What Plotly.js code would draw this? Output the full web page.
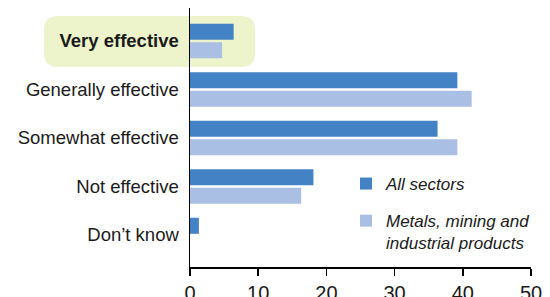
<!DOCTYPE html>
<html>
<head>
<meta charset="utf-8">
<script src="https://cdn.plot.ly/plotly-3.0.1.min.js"></script>
<style>html,body{margin:0;padding:0;background:#fff;}#chart{width:550px;height:297px;}</style>
</head>
<body>
<div id="chart"></div>
<script>
const categories = ["Very effective", "Generally effective", "Somewhat effective", "Not effective", "Don\u2019t know"];
const allSectors = [6.4, 39.2, 36.3, 18.1, 1.3];
const metalsMining = [4.7, 41.3, 39.2, 16.3, 0];
const seriesNames = ["All sectors", "Metals, mining and<br>industrial products"];
const xTicks = [0, 10, 20, 30, 40, 50];
const highlighted = "Very effective";

const FONT = "'Liberation Sans', Arial, sans-serif";
const W = 550, H = 297;
const M = {l: 190, r: 19, t: 8, b: 30, autoexpand: false};
const PW = W - M.l - M.r, PH = H - M.t - M.b;
function px(x) { return (x - M.l) / PW; }
function py(y) { return 1 - (y - M.t) / PH; }

// rounded highlight box behind "Very effective" (pixel geometry -> paper)
const bx0 = 44, bx1 = 255, by0 = 16, by1 = 67, r = 14;
const path = [
  `M${px(bx0 + r)},${py(by0)}`,
  `L${px(bx1 - r)},${py(by0)}`,
  `Q${px(bx1)},${py(by0)} ${px(bx1)},${py(by0 + r)}`,
  `L${px(bx1)},${py(by1 - r)}`,
  `Q${px(bx1)},${py(by1)} ${px(bx1 - r)},${py(by1)}`,
  `L${px(bx0 + r)},${py(by1)}`,
  `Q${px(bx0)},${py(by1)} ${px(bx0)},${py(by1 - r)}`,
  `L${px(bx0)},${py(by0 + r)}`,
  `Q${px(bx0)},${py(by0)} ${px(bx0 + r)},${py(by0)}`,
  'Z'
].join(' ');

const traces = [
  {type: 'bar', orientation: 'h', y: categories, x: allSectors, name: seriesNames[0],
   legendgroup: 'a', marker: {color: '#4382C5'}, hoverinfo: 'skip'},
  {type: 'bar', orientation: 'h', y: categories, x: metalsMining, name: seriesNames[1],
   legendgroup: 'b', marker: {color: '#AABFE4'}, hoverinfo: 'skip'}
];

const layout = {
  width: W, height: H,
  margin: M,
  paper_bgcolor: '#fff', plot_bgcolor: 'rgba(0,0,0,0)',
  font: {family: FONT, size: 18.5, color: '#1a1a1a'},
  barmode: 'group', bargap: 0.24, bargroupgap: 0.13,
  showlegend: true,
  legend: {x: px(346), y: py(166), xanchor: 'left', yanchor: 'top',
           font: {family: FONT, size: 17, style: 'italic', color: '#1a1a1a'},
           valign: 'top', bgcolor: 'rgba(0,0,0,0)', traceorder: 'grouped', tracegroupgap: 12},
  xaxis: {range: [0, 50], tickvals: xTicks, ticks: 'outside', ticklen: 7, tickwidth: 1.5,
          tickcolor: '#000', showline: true, linecolor: '#000', linewidth: 1.5,
          showgrid: false, zeroline: false, fixedrange: true, automargin: false,
          tickfont: {family: FONT, size: 20, color: '#1a1a1a'}},
  yaxis: {type: 'category', categoryorder: 'array', categoryarray: categories,
          range: [4.66, -0.68], tickvals: categories,
          ticktext: categories.map(c => c === highlighted ? '<b>' + c + '</b>' : c),
          ticks: '', showline: true, linecolor: '#000', linewidth: 1.5,
          showgrid: false, zeroline: false, ticklabelstandoff: 6, fixedrange: true, automargin: false,
          tickfont: {family: FONT, size: 18.5, color: '#1a1a1a'}},
  shapes: [{type: 'path', xref: 'paper', yref: 'paper', path: path, layer: 'below',
            fillcolor: '#EDF3CB', line: {width: 0}}]
};

Plotly.newPlot('chart', traces, layout, {staticPlot: true, displayModeBar: false});
</script>
</body>
</html>
